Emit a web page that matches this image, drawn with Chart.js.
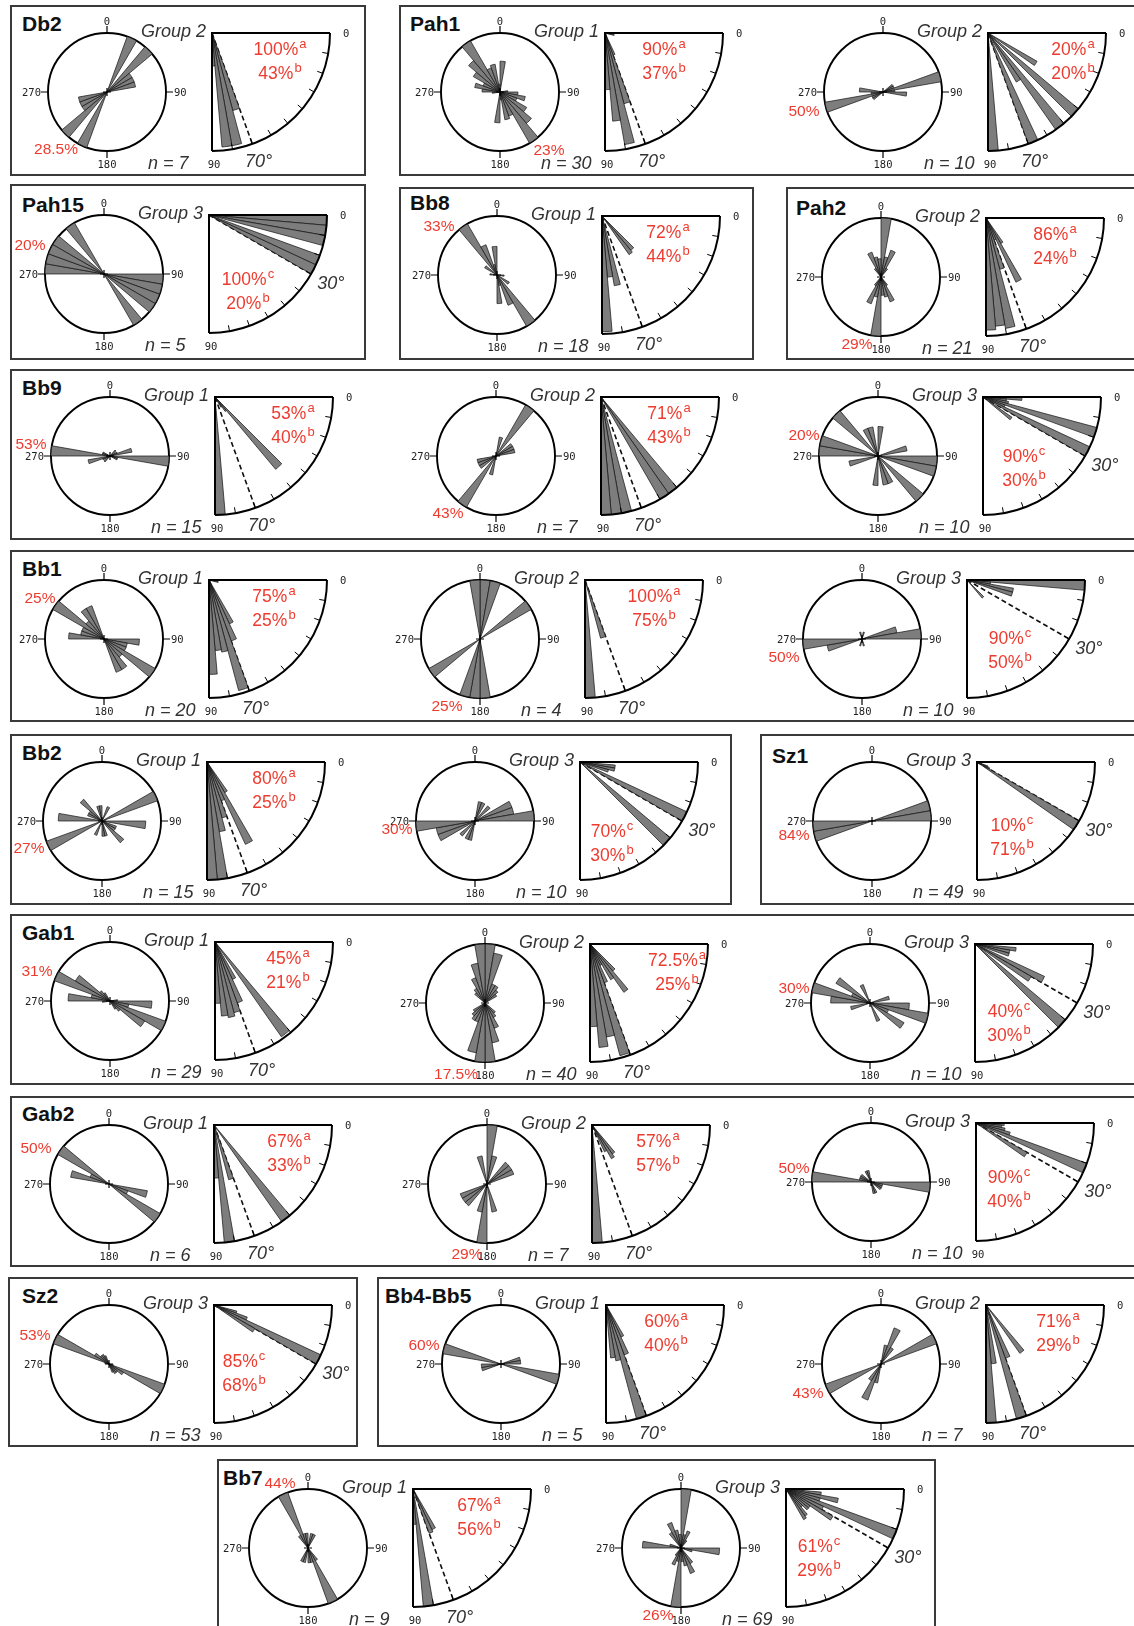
<!DOCTYPE html>
<html><head><meta charset="utf-8">
<script src="https://cdn.jsdelivr.net/npm/chart.js@4.4.1/dist/chart.umd.min.js"></script>
<style>
html,body{margin:0;padding:0;background:#fff;}
#page{position:relative;width:1134px;height:1626px;overflow:hidden;background:#fff;font-family:'Liberation Sans',Arial,Helvetica,sans-serif;}
.box{position:absolute;border:2px solid #3a3a3a;box-sizing:border-box;}
.t{position:absolute;white-space:nowrap;line-height:1;}
.title{font-weight:bold;font-size:21px;color:#111;}
.grp{font-style:italic;font-size:18px;color:#333;}
.nn{font-style:italic;font-size:18px;color:#333;}
.lim{font-style:italic;font-size:18px;color:#333;}
.red{color:#ee3b2f;font-size:17.5px;}
.rmax{color:#ee3b2f;font-size:15.5px;}
.sup{font-size:13px;position:relative;top:-7px;margin-left:1px;}
.tk{font-family:'DejaVu Sans Mono','Liberation Mono',monospace;font-size:10.5px;color:#222;}
canvas{position:absolute;}
</style></head>
<body><div id="page"></div>
<script>
// ---------------- DATA ----------------
// pairs (rose diagram + dip diagram), in reading order
const pairSite  = ['Db2','Pah1','Pah1','Pah15','Bb8','Pah2','Bb9','Bb9','Bb9','Bb1','Bb1','Bb1','Bb2','Bb2','Sz1','Gab1','Gab1','Gab1','Gab2','Gab2','Gab2','Sz2','Bb4-Bb5','Bb4-Bb5','Bb7','Bb7'];
const pairGroup = [2,1,2,3,1,2,1,2,3,1,2,3,1,3,3,1,2,3,1,2,3,3,1,2,1,3];
const pairN     = [7,30,10,5,18,21,15,7,10,20,4,10,15,10,49,29,40,10,6,7,10,53,5,7,9,69];
const roseMaxPct = [28.5,23,50,20,33,29,53,43,20,25,25,50,27,30,84,31,17.5,30,50,29,50,53,60,43,44,26];
const pctFirst    = [100,90,20,100,72,86,53,71,90,75,100,90,80,70,10,45,72.5,40,67,57,90,85,60,71,67,61];
const pctFirstKey = ['a','a','a','c','a','a','a','a','c','a','a','c','a','c','c','a','a','c','a','a','c','c','a','a','a','c'];
const pctSecond   = [43,37,20,20,44,24,40,43,30,25,75,50,25,30,71,21,25,30,33,57,40,68,40,29,56,29];
const dipLimit    = [70,70,70,30,70,70,70,70,30,70,70,30,70,30,30,70,70,30,70,70,30,30,70,70,70,30];
const azimuthTicks = ['0','90','180','270'];
const dipTicks = ['0','90'];

// strike rose: 10° classes 0-180 (bidirectional, mirrored to 180-360), % of fractures
const roseDb2G2   = [0,0,28.5,0,28.5,14,14,14,0,0,0,0,0,0,0,0,0,0];
const rosePah1G1  = [12,0,0,0,0,0,0,0,3,7,10,7,12,16,23,10,11,3];
const rosePah1G2  = [0,0,0,0,0,10,10,50,10,20,0,0,0,0,0,0,0,0];
const rosePah15G3 = [0,0,0,0,0,0,0,0,0,20,20,20,20,0,20,0,0,0];
const roseBb8G1   = [0,0,0,0,0,0,0,0,0,4,0,0,8,0,33,18,6,16];
const rosePah2G2  = [29,10,14,5,0,0,0,0,0,0,0,0,0,0,5,13,10,9];
const roseBb9G1   = [0,0,0,0,7,0,7,20,0,53,7,7,0,0,0,0,0,0];
const roseBb9G2   = [0,14,0,43,0,14,14,14,0,0,0,0,0,0,0,0,0,0];
const roseBb9G3   = [10,0,0,0,0,0,0,10,0,20,20,0,0,20,0,10,10,0];
const roseBb1G1   = [0,0,0,0,0,0,0,0,0,15,10,10,25,10,15,15,0,0];
const roseBb1G2   = [25,25,0,0,0,25,0,0,0,0,0,0,0,0,0,0,0,25];
const roseBb1G3   = [0,6,0,0,0,0,0,30,50,0,0,0,0,0,0,0,6,0];
const roseBb2G1   = [0,0,7,0,0,0,27,0,0,20,0,7,7,13,0,0,7,7];
const roseBb2G3   = [0,10,10,0,10,0,20,20,30,0,0,0,0,0,0,0,0,0];
const roseSz1G3   = [0,0,0,0,0,0,0,84,84,0,0,0,0,0,0,0,0,0];
const roseGab1G1  = [0,0,0,0,0,0,0,0,4,22,10,31,21,7,5,0,0,0];
const roseGab1G2  = [17.5,15,6,6,5,4,0,0,0,0,0,0,0,4,5,8,12,17.5];
const roseGab1G3  = [0,0,0,0,0,0,0,10,0,20,30,10,20,0,0,10,0,0];
const roseGab2G1  = [0,0,0,0,0,0,0,0,0,0,33,17,50,0,0,0,0,0];
const roseGab2G2  = [29,14,0,0,14,14,14,0,0,0,0,0,0,0,0,0,14,0];
const roseGab2G3  = [0,0,0,0,0,0,0,0,0,50,10,10,10,0,0,10,10,0];
const roseSz2G3   = [0,0,0,0,0,0,0,0,0,0,4,53,15,10,10,8,0,0];
const roseBb45G1  = [0,0,0,0,0,0,0,20,20,0,60,0,0,0,0,0,0,0];
const roseBb45G2  = [0,14,28,14,0,0,43,0,0,0,0,0,0,0,0,0,0,0];
const roseBb7G1   = [0,11,11,0,0,0,0,0,0,0,0,0,0,0,11,44,11,11];
const roseBb7G3   = [26,6,8,4,0,0,0,0,0,17,5,0,0,0,8,12,8,6];

// dip histograms: 5° classes 0-90, relative frequency (% of outer arc)
const dipDb2G2   = [0,0,0,0,0,0,0,0,0,0,0,0,0,0,68,97,97,28];
const dipPah1G1  = [0,0,8,0,0,0,0,0,0,0,0,0,0,20,62,96,75,48];
const dipPah1G2  = [0,0,0,0,0,0,48,0,100,0,100,48,0,100,0,0,0,100];
const dipPah15G3 = [100,100,100,0,100,100,0,0,0,0,0,0,0,0,0,0,0,0];
const dipBb8G1   = [0,0,0,0,0,0,0,0,0,38,40,0,0,0,0,60,52,98];
const dipPah2G2  = [0,0,0,0,0,0,0,0,0,0,0,25,60,20,45,95,92,95];
const dipBb9G1   = [0,0,0,0,0,0,0,0,0,80,15,10,0,0,0,0,0,100];
const dipBb9G2   = [0,0,0,0,0,0,0,0,0,0,100,100,0,0,0,100,100,100];
const dipBb9G3   = [33,20,22,100,20,100,0,30,0,0,0,0,0,0,0,0,0,0];
const dipBb1G1   = [0,0,8,0,0,0,0,0,0,0,0,0,41,55,97,62,60,80];
const dipBb1G2   = [0,0,0,0,0,0,0,0,0,0,0,0,0,0,51,0,0,100];
const dipBb1G3   = [100,20,40,40,0,0,0,0,0,20,0,0,0,0,0,0,0,0];
const dipBb2G1   = [0,0,0,0,0,0,0,0,0,0,0,30,77,35,49,60,100,100];
const dipBb2G3   = [0,30,30,25,0,100,0,0,100,0,0,0,0,0,0,0,0,0];
const dipSz1G3   = [0,0,0,0,10,12,100,0,0,0,0,0,0,0,0,0,0,0];
const dipGab1G1  = [0,0,0,0,0,0,0,0,0,0,98,0,35,55,62,65,63,52];
const dipGab1G2  = [0,0,0,0,0,0,0,0,0,30,50,35,20,35,98,80,88,70];
const dipGab1G3  = [0,35,30,30,0,65,55,0,100,0,0,0,0,0,0,0,0,0];
const dipGab2G1  = [0,0,0,0,0,0,0,0,0,0,100,0,0,0,48,0,100,45];
const dipGab2G2  = [0,0,0,0,0,0,0,0,0,0,30,33,25,0,0,0,0,100];
const dipGab2G3  = [24,22,25,30,100,0,50,0,0,0,0,0,0,0,0,0,0,0];
const dipSz2G3   = [0,0,0,20,30,100,40,0,0,0,0,0,0,0,0,0,0,0];
const dipBb45G1  = [0,0,0,0,0,0,0,0,0,0,0,0,30,45,100,48,45,0];
const dipBb45G2  = [0,0,0,0,0,0,0,0,0,0,50,0,0,48,100,0,50,100];
const dipBb7G1   = [0,0,0,0,0,0,0,0,0,0,0,0,38,40,0,0,100,30];
const dipBb7G3   = [15,30,45,30,100,35,46,25,25,20,28,30,0,0,0,0,0,0];

const roseSets = [roseDb2G2,rosePah1G1,rosePah1G2,rosePah15G3,roseBb8G1,rosePah2G2,roseBb9G1,roseBb9G2,roseBb9G3,roseBb1G1,roseBb1G2,roseBb1G3,roseBb2G1,roseBb2G3,roseSz1G3,roseGab1G1,roseGab1G2,roseGab1G3,roseGab2G1,roseGab2G2,roseGab2G3,roseSz2G3,roseBb45G1,roseBb45G2,roseBb7G1,roseBb7G3];
const dipSets = [dipDb2G2,dipPah1G1,dipPah1G2,dipPah15G3,dipBb8G1,dipPah2G2,dipBb9G1,dipBb9G2,dipBb9G3,dipBb1G1,dipBb1G2,dipBb1G3,dipBb2G1,dipBb2G3,dipSz1G3,dipGab1G1,dipGab1G2,dipGab1G3,dipGab2G1,dipGab2G2,dipGab2G3,dipSz2G3,dipBb45G1,dipBb45G2,dipBb7G1,dipBb7G3];

// ---------------- LAYOUT ----------------
const RR = 59, RPAD = 11;      // rose radius
const DR = 118, DPAD = 12;     // dip quadrant radius
const DX = 105, DY = -59;      // dip corner relative to rose centre
const boxes = [
  [10,5,366,176],[399,5,1140,176],
  [10,184,366,360],[399,187,754,360],[786,187,1140,360],
  [10,369,1140,540],[10,550,1140,722],
  [10,734,732,905],[760,734,1140,905],
  [10,914,1140,1085],[10,1096,1140,1267],
  [8,1277,358,1447],[377,1277,1140,1447],
  [217,1459,936,1640]
];
const titles = [
  ['Db2',22,23],['Pah1',410,23],['Pah15',22,204],['Bb8',410,202],['Pah2',796,207],
  ['Bb9',22,387],['Bb1',22,568],['Bb2',22,752],['Sz1',772,755],['Gab1',22,932],
  ['Gab2',22,1113],['Sz2',22,1295],['Bb4-Bb5',385,1295],['Bb7',223,1477]
];
const place = [
 {cx:107,cy:92, lx:-51,ly:57, ax:68,ay:17},
 {cx:500,cy:92, lx:49,ly:58, ax:59,ay:17},
 {cx:883,cy:92, lx:-79,ly:19, ax:85,ay:17},
 {cx:104,cy:274, lx:-74,ly:-29, ax:39,ay:65},
 {cx:497,cy:275, lx:-58,ly:-49, ax:66,ay:17},
 {cx:881,cy:277, lx:-24,ly:67, ax:69,ay:17},
 {cx:110,cy:456, lx:-79,ly:-12, ax:78,ay:17},
 {cx:496,cy:456, lx:-48,ly:57, ax:68,ay:17},
 {cx:878,cy:456, lx:-74,ly:-21, ax:41,ay:60},
 {cx:104,cy:639, lx:-64,ly:-41, ax:65,ay:17},
 {cx:480,cy:639, lx:-33,ly:67, ax:69,ay:17},
 {cx:862,cy:639, lx:-78,ly:18, ax:43,ay:59},
 {cx:102,cy:821, lx:-73,ly:27, ax:67,ay:17},
 {cx:475,cy:821, lx:-78,ly:8, ax:32,ay:70},
 {cx:872,cy:821, lx:-78,ly:14, ax:35,ay:64},
 {cx:110,cy:1001, lx:-73,ly:-30, ax:73,ay:17},
 {cx:485,cy:1003, lx:-29,ly:71, ax:87,ay:17},
 {cx:870,cy:1003, lx:-76,ly:-15, ax:34,ay:68},
 {cx:109,cy:1184, lx:-73,ly:-36, ax:75,ay:17},
 {cx:487,cy:1184, lx:-20,ly:70, ax:66,ay:17},
 {cx:871,cy:1182, lx:-77,ly:-14, ax:33,ay:55},
 {cx:109,cy:1364, lx:-74,ly:-29, ax:30,ay:57},
 {cx:501,cy:1364, lx:-77,ly:-19, ax:60,ay:17},
 {cx:881,cy:1364, lx:-73,ly:29, ax:72,ay:17},
 {cx:308,cy:1548, lx:-28,ly:-65, ax:66,ay:17},
 {cx:681,cy:1548, lx:-23,ly:67, ax:33,ay:58}
];
const BAR_FILL = '#7d7d7d', BAR_LINE = '#111';

// ---------------- BUILD ----------------
const page = document.getElementById('page');
function txt(x, y, html, cls, align) {
  const d = document.createElement('div');
  d.className = 't ' + cls; d.innerHTML = html;
  d.style.left = x + 'px'; d.style.top = y + 'px';
  d.style.transform = align === 'c' ? 'translate(-50%,-50%)' : (align === 'r' ? 'translate(-100%,-50%)' : 'translate(0,-50%)');
  page.appendChild(d); return d;
}
boxes.forEach(b => {
  const d = document.createElement('div'); d.className = 'box';
  d.style.left = b[0] + 'px'; d.style.top = b[1] + 'px';
  d.style.width = (b[2] - b[0]) + 'px'; d.style.height = (b[3] - b[1]) + 'px';
  page.appendChild(d);
});
titles.forEach(t => txt(t[1], t[2], t[0], 'title', 'l'));

const roseLabels = Array.from({length:36}, (_, k) => (k*10) + '–' + (k*10+10) + '°');
const dipLabels = Array.from({length:72}, (_, k) => (k*5) + '–' + (k*5+5) + '°');

const roseDeco = {
  id: 'roseDeco',
  afterDraw(chart) {
    const s = chart.scales.r, ctx = chart.ctx;
    const x = s.xCenter, y = s.yCenter, r = s.drawingArea;
    ctx.save(); ctx.strokeStyle = '#000'; ctx.lineWidth = 1.2; ctx.beginPath();
    [[0,-1],[1,0],[0,1],[-1,0]].forEach(([a,b]) => { ctx.moveTo(x + a*r, y + b*r); ctx.lineTo(x + a*(r+7), y + b*(r+7)); });
    ctx.moveTo(x-4, y); ctx.lineTo(x+4, y); ctx.moveTo(x, y-4); ctx.lineTo(x, y+4);
    ctx.stroke(); ctx.restore();
  }
};
const dipDeco = {
  id: 'dipDeco',
  beforeDatasetsDraw(chart, args, opts) {
    const s = chart.scales.r, ctx = chart.ctx;
    const x = s.xCenter, y = s.yCenter, R = s.drawingArea, a = opts.limit * Math.PI / 180;
    ctx.save(); ctx.strokeStyle = '#111'; ctx.lineWidth = 1.6; ctx.setLineDash([5,3]);
    ctx.beginPath(); ctx.moveTo(x, y); ctx.lineTo(x + R*Math.cos(a), y + R*Math.sin(a)); ctx.stroke(); ctx.restore();
  },
  afterDatasetsDraw(chart) {
    const s = chart.scales.r, ctx = chart.ctx;
    const x = s.xCenter, y = s.yCenter, R = s.drawingArea;
    ctx.save(); ctx.strokeStyle = '#000'; ctx.lineWidth = 2;
    ctx.beginPath(); ctx.moveTo(x + R, y); ctx.lineTo(x, y); ctx.lineTo(x, y + R); ctx.stroke();
    ctx.beginPath(); ctx.arc(x, y, R, 0, Math.PI/2); ctx.stroke();
    ctx.lineWidth = 1; ctx.beginPath();
    for (let d = 10; d < 90; d += 10) {
      const a = d * Math.PI / 180;
      ctx.moveTo(x + R*Math.cos(a), y + R*Math.sin(a));
      ctx.lineTo(x + (R-6)*Math.cos(a), y + (R-6)*Math.sin(a));
    }
    ctx.stroke(); ctx.restore();
  }
};

function makeCanvas(cx, cy, S) {
  const cv = document.createElement('canvas');
  cv.width = S; cv.height = S;
  cv.style.left = (cx - S/2) + 'px'; cv.style.top = (cy - S/2) + 'px';
  cv.style.width = S + 'px'; cv.style.height = S + 'px';
  page.appendChild(cv); return cv;
}

place.forEach((P, i) => {
  // rose diagram
  const S1 = 2 * (RR + RPAD);
  const half = roseSets[i];
  new Chart(makeCanvas(P.cx, P.cy, S1), {
    type: 'polarArea',
    data: { labels: roseLabels, datasets: [{ data: half.concat(half), backgroundColor: BAR_FILL, borderColor: BAR_LINE, borderWidth: 0.7 }] },
    options: {
      responsive: false, animation: false, devicePixelRatio: 1,
      layout: { padding: RPAD },
      plugins: { legend: { display: false }, tooltip: { enabled: false } },
      scales: { r: { min: 0, max: roseMaxPct[i], startAngle: 0,
        ticks: { display: false, stepSize: roseMaxPct[i] },
        grid: { circular: true, color: '#000', lineWidth: 1.9 },
        angleLines: { display: false }, pointLabels: { display: false } } }
    },
    plugins: [roseDeco]
  });
  // dip diagram (quarter circle, corner at top-left)
  const qx = P.cx + DX, qy = P.cy + DY;
  const S2 = 2 * (DR + DPAD);
  const dip = dipSets[i].concat(new Array(54).fill(0));
  new Chart(makeCanvas(qx, qy, S2), {
    type: 'polarArea',
    data: { labels: dipLabels, datasets: [{ data: dip, backgroundColor: BAR_FILL, borderColor: BAR_LINE, borderWidth: 0.7 }] },
    options: {
      responsive: false, animation: false, devicePixelRatio: 1,
      layout: { padding: DPAD },
      plugins: { legend: { display: false }, tooltip: { enabled: false }, dipDeco: { limit: dipLimit[i] } },
      scales: { r: { min: 0, max: 100, startAngle: 90,
        ticks: { display: false }, grid: { display: false },
        angleLines: { display: false }, pointLabels: { display: false } } }
    },
    plugins: [dipDeco]
  });

  // texts: rose ticks
  txt(P.cx, P.cy - RR - 12, azimuthTicks[0], 'tk', 'c');
  txt(P.cx + RR + 8, P.cy, azimuthTicks[1], 'tk', 'l');
  txt(P.cx, P.cy + RR + 13, azimuthTicks[2], 'tk', 'c');
  txt(P.cx - RR - 7, P.cy, azimuthTicks[3], 'tk', 'r');
  // dip ticks
  txt(qx + DR + 13, qy, dipTicks[0], 'tk', 'l');
  txt(qx + 2, qy + DR + 13, dipTicks[1], 'tk', 'c');
  // labels
  txt(P.cx + P.lx, P.cy + P.ly, roseMaxPct[i] + '%', 'rmax', 'c');
  txt(qx - 6, qy - 2, 'Group ' + pairGroup[i], 'grp', 'r');
  txt(qx - 64, P.cy + 71, 'n = ' + pairN[i], 'nn', 'l');
  txt(qx + P.ax, qy + P.ay, pctFirst[i] + '%<span class="sup">' + pctFirstKey[i] + '</span>', 'red', 'c');
  txt(qx + P.ax, qy + P.ay + 23.5, pctSecond[i] + '%<span class="sup">b</span>', 'red', 'c');
  const a = dipLimit[i] * Math.PI / 180, d = DR + 18;
  txt(qx + d*Math.cos(a) + (dipLimit[i] < 45 ? 4 : 0), qy + d*Math.sin(a), dipLimit[i] + '°', 'lim', 'c');
});
</script>
</body></html>
